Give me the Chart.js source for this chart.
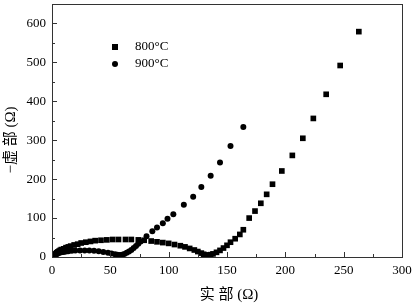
<!DOCTYPE html>
<html>
<head>
    <title>Impedance</title>
    <script src="https://cdn.jsdelivr.net/npm/chart.js@4.4.1/dist/chart.umd.min.js"></script>
    <style>
        html, body { margin: 0; padding: 0; background: #fff; }
        #wrap { width: 413px; height: 307px; }
    </style>
</head>
<body>
<div id="wrap"><canvas id="myChart" width="413" height="307"></canvas></div>
<script>
    // 800°C : real part (x) / -imaginary part (y), ohm
    var re800 = [1, 2, 3, 4, 5, 6, 7, 8, 10, 12, 14, 16, 19, 22, 25, 29, 33, 37, 42, 47, 52, 57, 63, 68, 74, 79, 85, 90, 95, 100, 105, 110, 114, 118, 122, 125, 128, 130, 132, 134, 136, 138, 141, 144, 147, 150, 153, 157, 161, 164, 169, 174, 179, 184, 189, 197, 206, 215, 224, 235, 247, 263];
    var im800 = [2, 5, 8, 11, 13, 15, 17, 19, 21, 24, 26, 28, 31, 33, 36, 38, 40, 42, 43, 44, 45, 45, 45, 45, 44, 43, 41, 39, 37, 35, 32, 29, 26, 22, 18, 14, 10, 7, 5, 5, 6, 8, 12, 17, 23, 30, 38, 47, 58, 70, 100, 118, 138, 161, 187, 221, 261, 305, 356, 418, 492, 579];

    // 900°C
    var re900 = [1, 2, 3, 4, 5, 6, 8, 10, 12, 14, 17, 20, 24, 28, 32, 36, 40, 44, 48, 51, 54, 56, 58, 60, 62, 64, 66, 68, 70, 72, 74, 76, 81, 86, 90, 95, 99, 104, 113, 121, 128, 136, 144, 153, 164];
    var im900 = [2, 4, 6, 8, 9, 10, 12, 13, 14, 15, 16, 17, 17, 17, 17, 16, 15, 13, 11, 9, 7, 6, 5, 6, 8, 11, 14, 18, 23, 28, 34, 40, 53, 66, 76, 87, 98, 110, 134, 155, 180, 209, 243, 285, 334];

    var legendLabels = ["800°C", "900°C"];
    var xTitle = "实 部 (Ω)";
    var yTitle = "−虚 部 (Ω)";

    function toPoints(xs, ys) {
        return xs.map(function (x, i) { return { x: x, y: ys[i] }; });
    }

    var serif = "'Liberation Serif', 'Times New Roman', serif";
    var cjk = "'Liberation Serif', 'Noto Sans CJK SC', serif";

    // frame, inward ticks, legend, axis titles
    var decor = {
        id: 'decor',
        afterDraw: function (chart) {
            var ctx = chart.ctx;
            var a = chart.chartArea;
            var xs = chart.scales.x, ys = chart.scales.y;
            ctx.save();
            ctx.strokeStyle = '#333';
            ctx.lineWidth = 1;
            ctx.strokeRect(Math.round(a.left) + 0.5, Math.round(a.top) + 0.5,
                Math.round(a.right - a.left), Math.round(a.bottom - a.top));

            ctx.beginPath();
            for (var v = 0; v <= 300; v += 25) {
                var px = Math.round(xs.getPixelForValue(v)) + 0.5;
                var len = (v % 50 === 0) ? 5 : 3;
                ctx.moveTo(px, a.bottom);
                ctx.lineTo(px, a.bottom - len);
            }
            for (var w = 0; w <= 650; w += 50) {
                var py = Math.round(ys.getPixelForValue(w)) + 0.5;
                var l2 = (w % 100 === 0) ? 5 : 3;
                ctx.moveTo(a.left, py);
                ctx.lineTo(a.left + l2, py);
            }
            ctx.stroke();

            // legend
            ctx.fillStyle = '#000';
            ctx.fillRect(112, 44, 6, 6);
            ctx.beginPath();
            ctx.arc(115, 64, 3, 0, Math.PI * 2);
            ctx.fill();
            ctx.font = "13px " + serif;
            ctx.textBaseline = 'middle';
            ctx.textAlign = 'left';
            ctx.fillText(legendLabels[0], 135, 47);
            ctx.fillText(legendLabels[1], 135, 64);

            // axis titles
            ctx.font = "15px " + cjk;
            ctx.textAlign = 'center';
            ctx.fillText(xTitle, (a.left + a.right) / 2 + 2, 295);
            ctx.save();
            ctx.translate(11, 140);
            ctx.rotate(-Math.PI / 2);
            ctx.fillText(yTitle, 0, 0);
            ctx.restore();
            ctx.restore();
        }
    };

    function noPad(s) {
        s.paddingTop = 0; s.paddingBottom = 0;
        s.paddingLeft = 0; s.paddingRight = 0;
    }

    var ctx = document.getElementById('myChart').getContext('2d');
    var myChart = new Chart(ctx, {
        type: 'scatter',
        data: {
            datasets: [
                {
                    label: legendLabels[0],
                    data: toPoints(re800, im800),
                    pointStyle: 'rect',
                    pointRadius: 4,
                    pointBorderWidth: 0,
                    backgroundColor: '#000',
                    borderColor: '#000'
                },
                {
                    label: legendLabels[1],
                    data: toPoints(re900, im900),
                    pointStyle: 'circle',
                    pointRadius: 3,
                    pointBorderWidth: 0,
                    backgroundColor: '#000',
                    borderColor: '#000'
                }
            ]
        },
        options: {
            responsive: false,
            animation: false,
            layout: { padding: { top: 3, right: 11, left: 0, bottom: 0 } },
            plugins: { legend: { display: false }, tooltip: { enabled: false } },
            scales: {
                x: {
                    type: 'linear',
                    min: 0, max: 300,
                    grid: { display: false, drawTicks: false },
                    border: { display: false },
                    ticks: { stepSize: 50, padding: 6, color: '#000', font: { family: serif, size: 13 } },
                    afterFit: function (s) { s.height = 50; noPad(s); }
                },
                y: {
                    type: 'linear',
                    min: 0, max: 650,
                    grid: { display: false, drawTicks: false },
                    border: { display: false },
                    ticks: { stepSize: 100, padding: 6, color: '#000', font: { family: serif, size: 13 } },
                    afterBuildTicks: function (s) {
                        s.ticks = s.ticks.filter(function (t) { return t.value % 100 === 0; });
                    },
                    afterFit: function (s) { s.width = 52; noPad(s); }
                }
            }
        },
        plugins: [decor]
    });
</script>
</body>
</html>
